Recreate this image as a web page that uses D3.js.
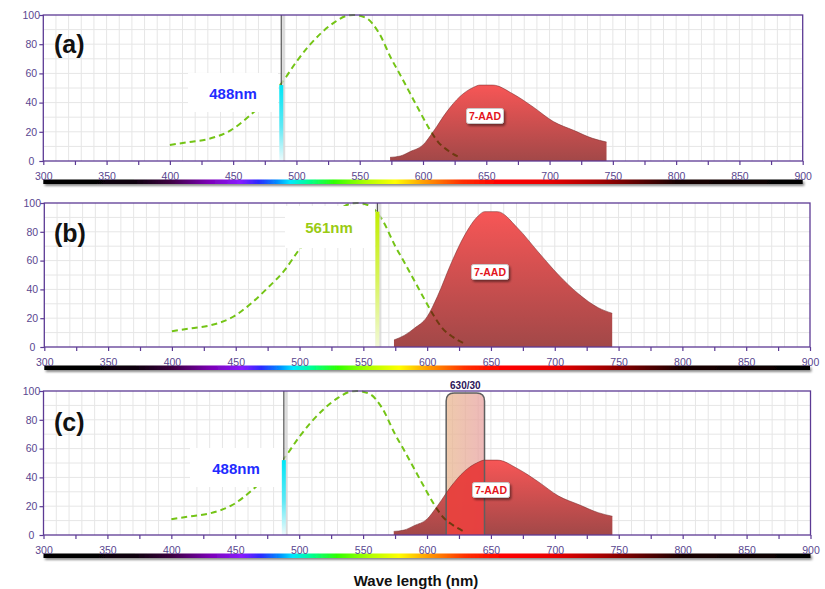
<!DOCTYPE html>
<html>
<head>
<meta charset="utf-8">
<script src="https://cdn.jsdelivr.net/npm/d3@7"></script>
<style>
  body { margin: 0; background: #fff; }
  svg { display: block; }
  text { font-family: "Liberation Sans", Arial, sans-serif; }
</style>
</head>
<body>
<svg id="chart" width="825" height="589"></svg>
<script>
// ---- data ----
const xTickMinor = [300, 325, 350, 375, 400, 425, 450, 475, 500, 525, 550, 575, 600, 625, 650, 675, 700, 725, 750, 775, 800, 825, 850, 875, 900];
const xTickLabels = [300, 350, 400, 450, 500, 550, 600, 650, 700, 750, 800, 850, 900];
const yTicks = [0, 20, 40, 60, 80, 100];
const gridNm = [310, 320, 330, 340, 350, 360, 370, 380, 390, 400, 410, 420, 430, 440, 450, 460, 470, 480, 490, 500, 510, 520, 530, 540, 550, 560, 570, 580, 590, 600, 610, 620, 630, 640, 650, 660, 670, 680, 690, 700, 710, 720, 730, 740, 750, 760, 770, 780, 790, 800, 810, 820, 830, 840, 850, 860, 870, 880, 890];
const gridPct = [10, 20, 30, 40, 50, 60, 70, 80, 90];

// 7-AAD excitation (dashed)
const excitationNm  = [400, 415, 430, 448, 463, 475, 488, 500, 510, 520, 530, 540, 545, 555, 565, 575, 582, 590, 598, 605, 612, 620, 630];
const excitationPct = [11, 13, 15, 21, 31, 41, 53, 68, 79, 88, 95, 99.5, 100, 98, 88, 70, 59, 46, 33, 22, 13, 7, 2];

// 7-AAD emission (filled), excited at 488 nm and at 561 nm
const emissionNm  = [574, 582, 590, 600, 608, 619, 629, 640, 645, 655, 671, 687, 703, 719, 734, 745];
const emission488 = [2.5, 3.4, 6.5, 11, 20, 34, 44, 50.5, 52, 52, 46, 37, 27, 21, 15.5, 13];
const emission561 = [4.9, 8, 13, 21, 35, 58.5, 77, 91, 94, 94, 82.5, 66, 50, 36.6, 27.3, 23.4];

const panelLetters = ["(a)", "(b)", "(c)"];
const laserNm = [488, 561, 488];
const laserLabels = ["488nm", "561nm", "488nm"];
const laserPct = [52, 94, 52];
const dyeName = "7-AAD";

const filterCenterNm = 630;
const filterBandNm = 30;

const spectrumNm = [300, 370, 400, 430, 455, 470, 485, 495, 510, 530, 555, 578, 600, 630, 660, 700, 740, 775, 800, 900];
const spectrumColors = ["#000000", "#0a000a", "#3c0040", "#7a00b4", "#8a1cff", "#2a2aff", "#0090ff", "#00e8ff", "#00ff90", "#30ff00", "#b0ff00", "#ffff00", "#ffa000", "#ff3000", "#ff0000", "#e80000", "#a00000", "#500000", "#180000", "#000000"];

// ---- layout ----
const layout = [
  { left: 43.3, right: 802.7, top: 15,  bottom: 161, letterY: 53,  box: [188, 73, 90, 39],  textX: 233, textY: 99,  textColor: "#1f2cff", barGrad: "cyanBar", dyeX: 485, dyeY: 116, series: emission488 },
  { left: 44.3, right: 810,   top: 203, bottom: 347, letterY: 242, box: [285, 206, 90, 42], textX: 329, textY: 233, textColor: "#9acb14", barGrad: "limeBar", dyeX: 490, dyeY: 272, series: emission561 },
  { left: 43.5, right: 810.5, top: 391, bottom: 535, letterY: 431, box: [190, 448, 93, 39], textX: 236, textY: 474, textColor: "#1f2cff", barGrad: "cyanBar", dyeX: 491, dyeY: 490, series: emission488, filter: true }
];

const svg = d3.select("#chart");
const defs = svg.append("defs");

function linGrad(id, x2, y2, stops) {
  const g = defs.append("linearGradient").attr("id", id)
    .attr("x1", 0).attr("y1", 0).attr("x2", x2).attr("y2", y2);
  stops.forEach(s => g.append("stop").attr("offset", s[0]).attr("stop-color", s[1]));
}
linGrad("emFill", 0, 1, [[0, "#f75656"], [1, "#a24848"]]);
linGrad("cyanBar", 0, 1, [[0, "#00e6f6"], [0.55, "#5fe9f5"], [1, "#eefbfc"]]);
linGrad("limeBar", 0, 1, [[0, "#c2ee00"], [0.5, "#d8f45a"], [1, "#f2f9d8"]]);
linGrad("filterFill", 1, 0, [[0, "#e9b890"], [1, "#e8a2a2"]]);
linGrad("spectrum", 1, 0, spectrumNm.map((nm, i) => [(nm - 300) / 600, spectrumColors[i]]));

const shadow = defs.append("filter").attr("id", "shadow").attr("x", "-10%").attr("y", "-50%").attr("width", "130%").attr("height", "300%");
shadow.append("feDropShadow").attr("dx", 1.5).attr("dy", 2).attr("stdDeviation", 1).attr("flood-color", "#000").attr("flood-opacity", 0.45);

const excitation = excitationNm.map((nm, i) => [nm, excitationPct[i]]);

layout.forEach((p, i) => {
  const x = d3.scaleLinear().domain([300, 900]).range([p.left, p.right]);
  const y = d3.scaleLinear().domain([0, 100]).range([p.bottom, p.top]);
  const g = svg.append("g");

  // grid
  g.selectAll(".vg").data(gridNm).join("line")
    .attr("x1", d => x(d)).attr("x2", d => x(d)).attr("y1", p.top).attr("y2", p.bottom)
    .attr("stroke", "#e6e6e6").attr("stroke-width", 1);
  g.selectAll(".hg").data(gridPct).join("line")
    .attr("x1", p.left).attr("x2", p.right).attr("y1", d => y(d)).attr("y2", d => y(d))
    .attr("stroke", "#e6e6e6").attr("stroke-width", 1);

  const line = d3.line().x(d => x(d[0])).y(d => y(d[1])).curve(d3.curveMonotoneX);
  const area = d3.area().x(d => x(d[0])).y0(y(0)).y1(d => y(d[1])).curve(d3.curveMonotoneX);
  const emission = emissionNm.map((nm, k) => [nm, p.series[k]]);

  // excitation dashed
  g.append("path").attr("d", line(excitation)).attr("fill", "none")
    .attr("stroke", "#74c416").attr("stroke-width", 2).attr("stroke-dasharray", "6,4");

  // emission area
  g.append("path").attr("d", area(emission)).attr("fill", "url(#emFill)");

  const clipId = "emClip" + i;
  defs.append("clipPath").attr("id", clipId).append("path").attr("d", area(emission));

  // filter (panel c)
  if (p.filter) {
    const f0 = x(filterCenterNm - filterBandNm / 2), f1 = x(filterCenterNm + filterBandNm / 2);
    const ft = p.top + 2, r = 8;
    const fpath = `M${f0},${p.bottom} V${ft + r} Q${f0},${ft} ${f0 + r},${ft} H${f1 - r} Q${f1},${ft} ${f1},${ft + r} V${p.bottom}`;
    g.append("path").attr("d", fpath + " Z").attr("fill", "url(#filterFill)").attr("opacity", 0.75);
    const fClip = "fClip" + i;
    defs.append("clipPath").attr("id", fClip).append("rect")
      .attr("x", f0).attr("y", p.top).attr("width", f1 - f0).attr("height", p.bottom - p.top);
    g.append("g").attr("clip-path", `url(#${fClip})`)
      .append("path").attr("d", area(emission)).attr("fill", "#e83434").attr("opacity", 0.85);
    g.append("path").attr("d", fpath).attr("fill", "none").attr("stroke", "#5f5f5f").attr("stroke-width", 1.5);
    g.append("text").attr("x", (f0 + f1) / 2).attr("y", p.top - 2.5).attr("text-anchor", "middle")
      .attr("font-size", 10).attr("font-weight", "bold").attr("fill", "#2b1458")
      .text(`${filterCenterNm}/${filterBandNm}`);
  }

  // excitation under the fill shows dark brown
  g.append("g").attr("clip-path", `url(#${clipId})`)
    .append("path").attr("d", line(excitation)).attr("fill", "none")
    .attr("stroke", "#6e3a10").attr("stroke-width", 2).attr("stroke-dasharray", "6,4");

  // emission outline (top edge)
  g.append("path").attr("d", line(emission)).attr("fill", "none")
    .attr("stroke", "#7a2e2e").attr("stroke-width", 0.8).attr("opacity", 0.7);

  // laser label box
  g.append("rect").attr("x", p.box[0]).attr("y", p.box[1]).attr("width", p.box[2]).attr("height", p.box[3]).attr("fill", "#fff");
  g.append("text").attr("x", p.textX).attr("y", p.textY).attr("text-anchor", "middle")
    .attr("font-size", 15).attr("font-weight", "bold").attr("fill", p.textColor).text(laserLabels[i]);

  // laser line
  const xl = x(laserNm[i]);
  g.append("rect").attr("x", xl + 0.5).attr("y", p.top).attr("width", 3.5).attr("height", p.bottom - p.top)
    .attr("fill", "#d4d4d4").attr("opacity", 0.75);
  g.append("line").attr("x1", xl).attr("x2", xl).attr("y1", p.top).attr("y2", p.bottom)
    .attr("stroke", "#4a4a4a").attr("stroke-width", 1.1);
  g.append("rect").attr("x", xl - 2).attr("y", y(laserPct[i])).attr("width", 4).attr("height", y(0) - y(laserPct[i]))
    .attr("fill", `url(#${p.barGrad})`);

  // dye label
  g.append("rect").attr("x", p.dyeX - 18.5).attr("y", p.dyeY - 7.5).attr("width", 37).attr("height", 15).attr("rx", 2)
    .attr("fill", "#fff").attr("stroke", "#c8c8c8").attr("filter", "url(#shadow)");
  g.append("text").attr("x", p.dyeX).attr("y", p.dyeY + 4).attr("text-anchor", "middle")
    .attr("font-size", 10.5).attr("font-weight", "bold").attr("fill", "#e3141c").text(dyeName);

  // frame
  g.append("rect").attr("x", p.left).attr("y", p.top).attr("width", p.right - p.left).attr("height", p.bottom - p.top)
    .attr("fill", "none").attr("stroke", "#5c3a94").attr("stroke-width", 1.3);

  // spectrum bar
  g.append("rect").attr("x", p.left).attr("y", p.bottom + 18.5).attr("width", p.right - p.left).attr("height", 4.5)
    .attr("fill", "url(#spectrum)").attr("filter", "url(#shadow)");

  const xa = g.append("g").attr("transform", `translate(0,${p.bottom})`)
    .call(d3.axisBottom(x).tickValues(xTickMinor).tickSize(4).tickSizeOuter(0)
      .tickFormat(d => xTickLabels.includes(d) ? d : ""));
  xa.select(".domain").remove();
  xa.selectAll("line").attr("stroke", "#5c3a94").attr("stroke-width", 1.2);
  xa.selectAll("text").attr("y", 19).attr("dy", 0).attr("font-size", 10.5)
    .attr("fill", "#5a4790").attr("font-family", "Liberation Sans, Arial, sans-serif");

  const ya = g.append("g").attr("transform", `translate(${p.left},0)`)
    .call(d3.axisLeft(y).tickValues(yTicks).tickSize(4).tickSizeOuter(0));
  ya.select(".domain").remove();
  ya.selectAll("line").attr("stroke", "#5c3a94").attr("stroke-width", 1.2);
  ya.selectAll("text").attr("x", -12).attr("text-anchor", "middle").attr("font-size", 10.5)
    .attr("fill", "#5a4790").attr("font-family", "Liberation Sans, Arial, sans-serif");

  // panel letter
  g.append("text").attr("x", 54).attr("y", p.letterY).attr("font-size", 25).attr("font-weight", "bold")
    .attr("fill", "#111").text(panelLetters[i]);
});

svg.append("text").attr("x", 416).attr("y", 586).attr("text-anchor", "middle")
  .attr("font-size", 15).attr("font-weight", "bold").attr("fill", "#111").text("Wave length (nm)");
</script>
</body>
</html>
